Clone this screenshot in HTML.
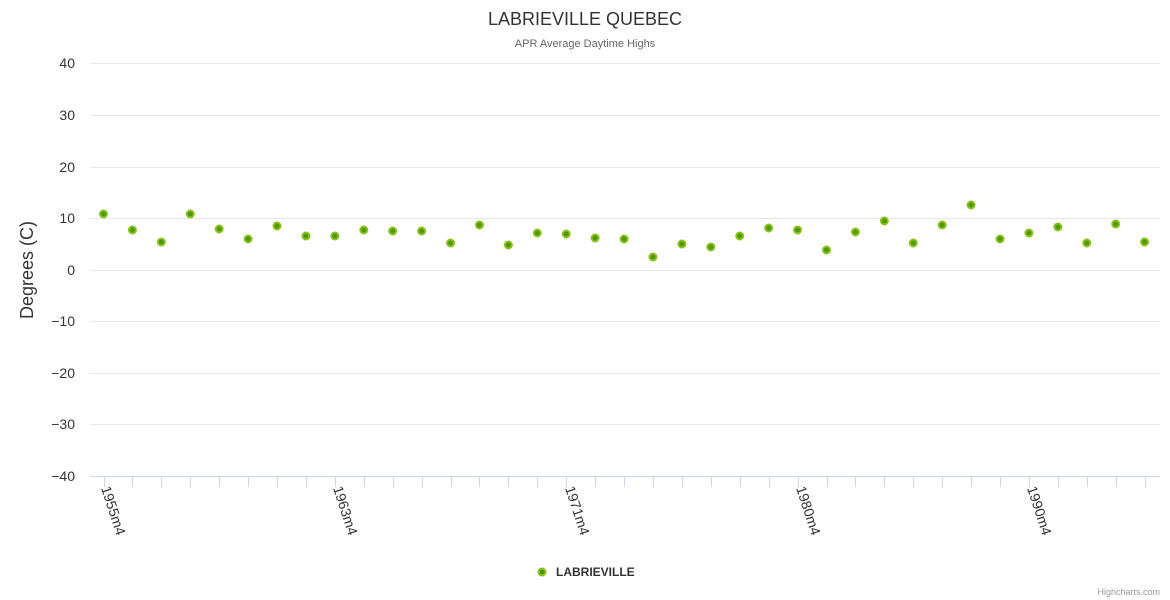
<!DOCTYPE html>
<html><head><meta charset="utf-8"><style>
html,body{margin:0;padding:0;background:#fff;}
svg{display:block;font-family:"Liberation Sans","DejaVu Sans",sans-serif;}
</style></head><body>
<svg width="1170" height="600" viewBox="0 0 1170 600" xmlns="http://www.w3.org/2000/svg">
<rect width="1170" height="600" fill="#fff"/>
<text x="585" y="25" text-anchor="middle" font-size="18" fill="#333">LABRIEVILLE QUEBEC</text>
<text x="585" y="47" text-anchor="middle" font-size="11" fill="#666">APR Average Daytime Highs</text>
<g stroke="#e6e6e6" stroke-width="1">
<line x1="90" x2="1160" y1="63.5" y2="63.5"/>
<line x1="90" x2="1160" y1="115.5" y2="115.5"/>
<line x1="90" x2="1160" y1="167.5" y2="167.5"/>
<line x1="90" x2="1160" y1="218.5" y2="218.5"/>
<line x1="90" x2="1160" y1="270.5" y2="270.5"/>
<line x1="90" x2="1160" y1="321.5" y2="321.5"/>
<line x1="90" x2="1160" y1="373.5" y2="373.5"/>
<line x1="90" x2="1160" y1="424.5" y2="424.5"/>
</g>
<line x1="90" x2="1160" y1="476.5" y2="476.5" stroke="#ccd6eb"/>
<g font-size="14" fill="#333" text-anchor="end">
<text x="75" y="68">40</text><text x="75" y="120">30</text><text x="75" y="172">20</text>
<text x="75" y="223">10</text><text x="75" y="275">0</text><text x="75" y="326">−10</text>
<text x="75" y="378">−20</text><text x="75" y="429">−30</text><text x="75" y="481">−40</text>
</g>
<text transform="translate(33,270) rotate(-90)" text-anchor="middle" font-size="18" fill="#333">Degrees (C)</text>
<g id="ticks" stroke="#ccd6eb"></g>
<g font-size="14" fill="#333">
<text transform="translate(101,488) rotate(72)">1955m4</text>
<text transform="translate(333,488) rotate(72)">1963m4</text>
<text transform="translate(565,488) rotate(72)">1971m4</text>
<text transform="translate(796,488) rotate(72)">1980m4</text>
<text transform="translate(1027,488) rotate(72)">1990m4</text>
</g>
<g id="pts" fill="#4d9a00" stroke="#8cc11c" stroke-width="2"></g>
<circle cx="542" cy="572" r="3.5" fill="#4d9a00" stroke="#8cc11c" stroke-width="2"/>
<text x="556" y="576" font-size="12" font-weight="bold" fill="#333">LABRIEVILLE</text>
<text x="1160" y="595" text-anchor="end" font-size="9" fill="#999">Highcharts.com</text>
</svg>
<script>
var ys=[214,230,242,214,229,239,226,236,236,230,231,231,243,225,245,233,234,238,239,257,244,247,236,228,230,250,232,221,243,225,205,239,233,227,243,224,242];
var ns="http://www.w3.org/2000/svg",p=document.getElementById("pts"),t=document.getElementById("ticks");
for(var i=0;i<ys.length;i++){var x=103.5+i*28.92;
var c=document.createElementNS(ns,"circle");c.setAttribute("cx",x);c.setAttribute("cy",ys[i]);c.setAttribute("r",3.5);p.appendChild(c);
var l=document.createElementNS(ns,"line");var xx=Math.round(x)+0.5;l.setAttribute("x1",xx);l.setAttribute("x2",xx);l.setAttribute("y1",477);l.setAttribute("y2",487);t.appendChild(l);}
</script>
</body></html>
